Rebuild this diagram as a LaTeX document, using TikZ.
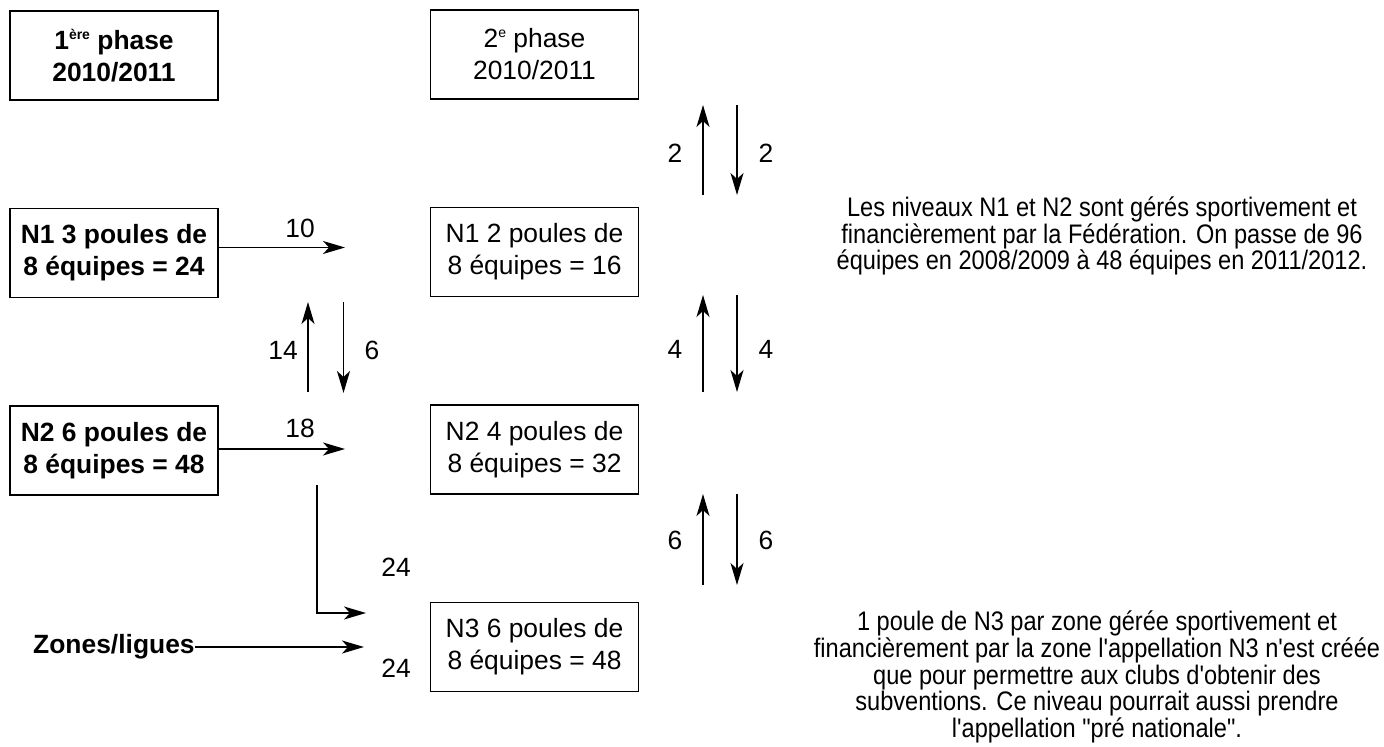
\documentclass[tikz,border=0pt]{standalone}
\usepackage{fontspec}
\setmainfont{Liberation Sans}
\newfontfamily\narrowfont[FakeStretch=0.88]{Liberation Sans}
\usetikzlibrary{arrows.meta,positioning}
\newcommand{\expo}[1]{\raisebox{0.75ex}{\fontsize{7}{7}\selectfont #1}}
\tikzset{
  phasebox/.style={draw,line width=0.75pt,minimum width=104pt,minimum height=44.5pt,
    align=center,inner sep=0pt,font=\fontsize{13.2}{16}\selectfont},
  boldbox/.style={phasebox,font=\fontsize{13.2}{16}\selectfont\bfseries},
  flow/.style={line width=0.7pt,-{Stealth[length=11pt,width=6.5pt,inset=3pt]}},
  num/.style={font=\fontsize{13.2}{16}\selectfont},
  note/.style={align=center,font=\narrowfont\fontsize{13.4}{13.4}\selectfont}
}

\begin{document}
\begin{tikzpicture}[x=0.5pt,y=-0.5pt]
  \useasboundingbox (0,0) rectangle (1384,747);

  % Phase headers
  \node[boldbox] (ph1) at (114,55.5) {1\expo{ère} phase\\2010/2011};
  \node[phasebox] (ph2) at (534.5,54.5) {2\expo{e} phase\\2010/2011};

  % Levels, first phase
  \node[boldbox] (n1a) at (114,253) {N1 3 poules de\\8 équipes = 24};
  \node[boldbox] (n2a) at (114,450.5) {N2 6 poules de\\8 équipes = 48};
  \node[anchor=east,inner sep=0pt,font=\fontsize{13.2}{16}\selectfont\bfseries] (zones) at (195,647) {Zones/ligues};

  % Levels, second phase
  \node[phasebox] (n1b) at (534.5,252) {N1 2 poules de\\8 équipes = 16};
  \node[phasebox] (n2b) at (534.5,449.5) {N2 4 poules de\\8 équipes = 32};
  \node[phasebox] (n3) at (534.5,647) {N3 6 poules de\\8 équipes = 48};

  % Free arrow ends
  \coordinate (e10) at (345,247.5);
  \coordinate (e18) at (345,449);
  \coordinate (s24) at (317,485);
  \coordinate (k24) at (317,613);
  \coordinate (e24a) at (366,613);
  \coordinate (e24b) at (364,647);

  % Moves between the two phases
  \draw[flow] (n1a.east |- e10) -- (e10);
  \node[num] (l10) at (300,228) {10};
  \draw[flow] (n2a.east |- e18) -- (e18);
  \node[num] (l18) at (300,428) {18};
  \draw[flow] (s24) -- (k24) -- (e24a);
  \node[num] (l24a) at (396,567) {24};
  \draw[flow] (zones.east) -- (e24b);
  \node[num] (l24b) at (396,668) {24};

  % Up and down, first phase
  \coordinate (u1) at (308,392); \coordinate (u2) at (308,302);
  \coordinate (d1) at (343.5,302); \coordinate (d2) at (343.5,393);
  \draw[flow] (u1) -- (u2);
  \draw[flow] (d1) -- (d2);
  \node[num] (l14) at (283,350) {14};
  \node[num] (l6) at (372,350) {6};

  % Up and down, second phase
  \foreach \ya/\yb/\yl/\n [count=\i] in {195/105/153/2, 392/295/349/4, 585/494/540/6}{
    \coordinate (pu\i) at (703,\ya); \coordinate (pt\i) at (703,\yb);
    \coordinate (qt\i) at (737,\yb); \coordinate (qu\i) at (737,\ya);
    \draw[flow] (pu\i) -- (pt\i);
    \draw[flow] (qt\i) -- (qu\i);
    \node[num] (ml\i) at (675,\yl) {\n};
    \node[num] (mr\i) at (766,\yl) {\n};
  }

  % Notes
  \node[note] (note1) at (1102,236) {Les niveaux N1 et N2 sont gérés sportivement et\\
    financièrement par la Fédération. On passe de 96\\
    équipes en 2008/2009 à 48 équipes en 2011/2012.};
  \node[note] (note2) at (1097,677) {1 poule de N3 par zone gérée sportivement et\\
    financièrement par la zone l'appellation N3 n'est créée\\
    que pour permettre aux clubs d'obtenir des\\
    subventions. Ce niveau pourrait aussi prendre\\
    l'appellation "pré nationale".};
\end{tikzpicture}
\end{document}
